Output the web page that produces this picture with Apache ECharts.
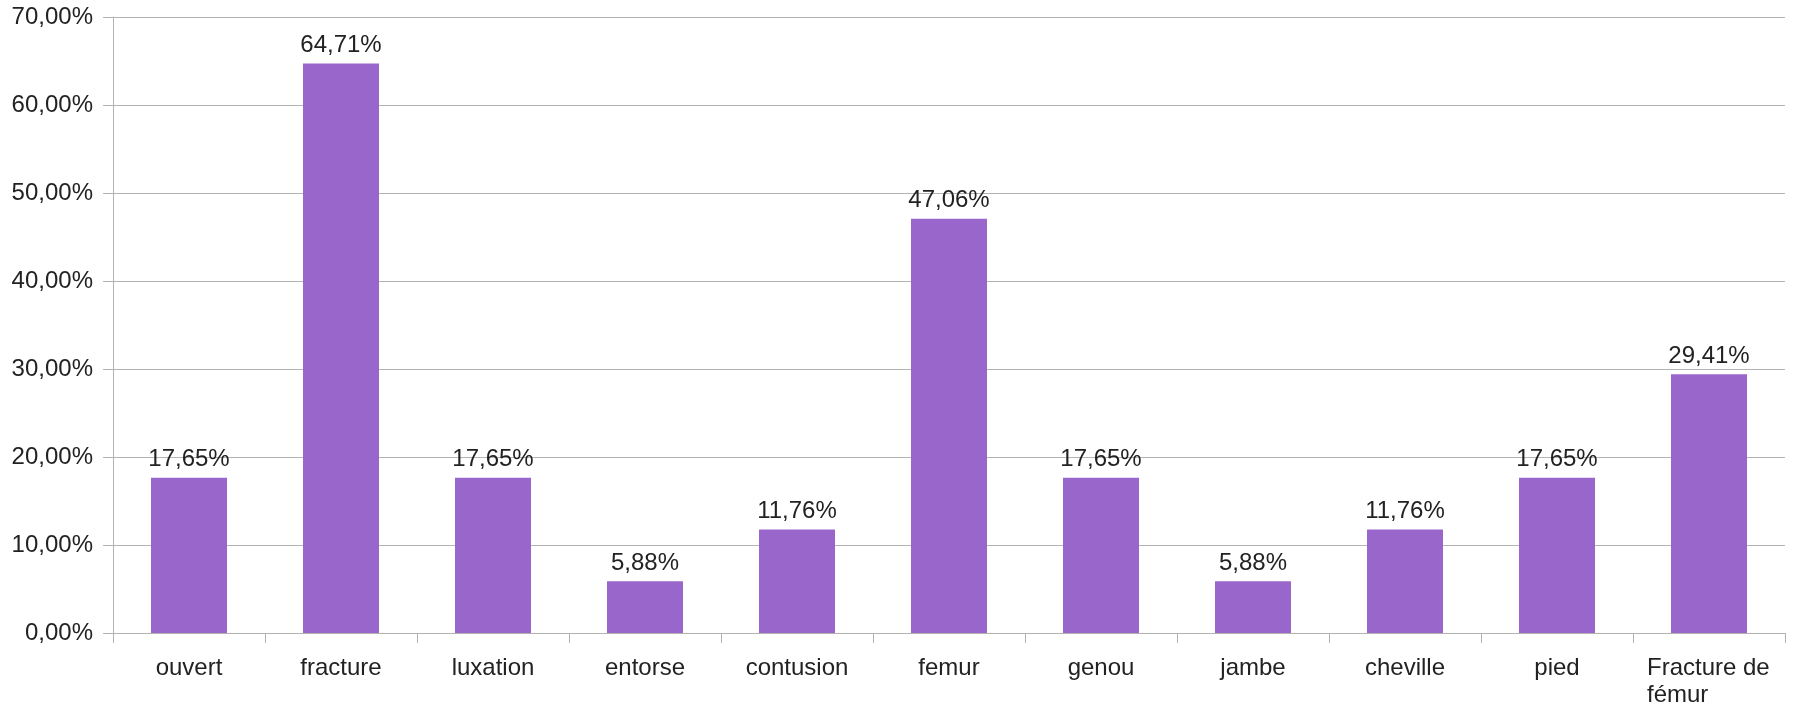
<!DOCTYPE html>
<html>
<head>
<meta charset="utf-8">
<script src="https://cdn.jsdelivr.net/npm/echarts@6/dist/echarts.min.js"></script>
<style>
html,body{margin:0;padding:0;background:#fff;}
#chart{width:1793px;height:705px;}
</style>
</head>
<body>
<div id="chart"></div>
<script>
const categories = ['ouvert','fracture','luxation','entorse','contusion','femur','genou','jambe','cheville','pied','Fracture de\nfémur'];
const values = [17.65, 64.71, 17.65, 5.88, 11.76, 47.06, 17.65, 5.88, 11.76, 17.65, 29.41];
const yTicks = {min: 0, max: 70, interval: 10};

function pct(v){ return v.toFixed(2).replace('.', ',') + '%'; }

const chart = echarts.init(document.getElementById('chart'), null, {renderer:'canvas'});
const font = 'Liberation Sans';
chart.setOption({
  animation: false,
  grid: {left: 113, right: 8, top: 17, bottom: 72, containLabel: false, outerBoundsMode: 'none'},
  xAxis: {
    type: 'category',
    data: categories,
    axisLine: {show: true, lineStyle: {color: '#b3b3b3', width: 1}},
    axisTick: {show: true, length: 10, alignWithLabel: false, lineStyle: {color: '#b3b3b3'}},
    axisLabel: {
      interval: 0, margin: 22, color: '#222', fontFamily: font, fontSize: 24, lineHeight: 27,
      formatter: function(v){
        if (v.indexOf('\n') >= 0) {
          return v.split('\n').map(s => '{w|' + s + '}').join('\n');
        }
        return v;
      },
      rich: {w: {width: 124, align: 'left', fontFamily: font, fontSize: 24, lineHeight: 27, color: '#222'}}
    },
    splitLine: {show: false}
  },
  yAxis: {
    type: 'value',
    min: yTicks.min, max: yTicks.max, interval: yTicks.interval,
    axisLine: {show: true, lineStyle: {color: '#b3b3b3', width: 1}},
    axisTick: {show: true, length: 10, lineStyle: {color: '#b3b3b3'}},
    axisLabel: {margin: 20, color: '#222', fontFamily: font, fontSize: 24, formatter: pct},
    splitLine: {show: true, lineStyle: {color: '#b3b3b3', width: 1}}
  },
  series: [{
    type: 'bar',
    data: values,
    barWidth: '50%',
    itemStyle: {color: '#9966cc'},
    label: {show: true, position: 'top', distance: 6, color: '#222', fontFamily: font, fontSize: 24, formatter: p => pct(p.value)}
  }]
});
</script>
</body>
</html>
